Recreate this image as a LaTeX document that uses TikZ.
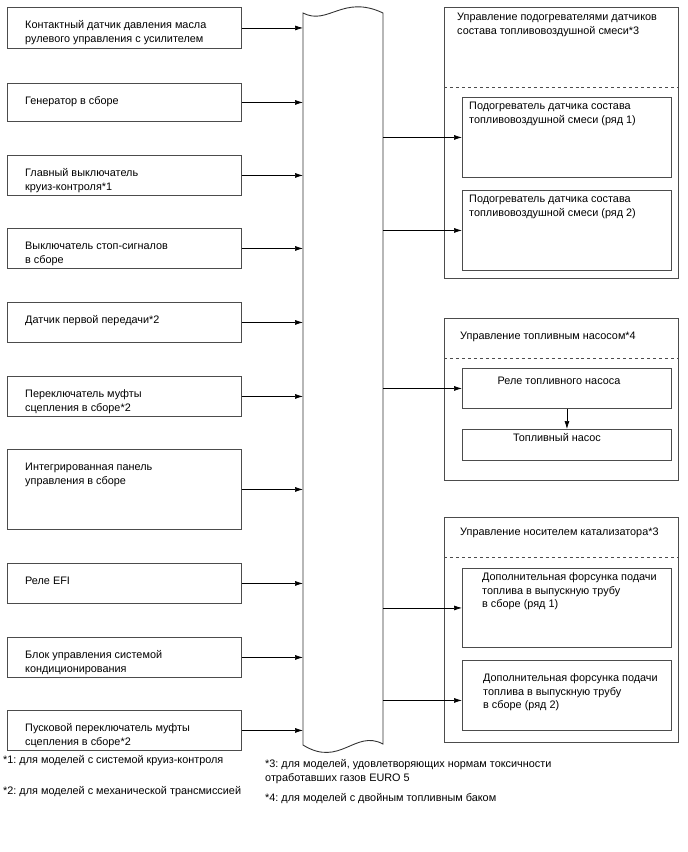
\documentclass[tikz,border=0pt]{standalone}
\usepackage{fontspec}
\setmainfont{Liberation Sans}
\frenchspacing
\usetikzlibrary{calc}
\usetikzlibrary{arrows.meta}

\begin{document}
\begin{tikzpicture}[x=1bp,y=-1bp,
        box/.style={draw=black!70,line width=0.9pt,rectangle,inner sep=0pt,anchor=north west},
        txt/.style={anchor=north west,inner sep=0pt,align=left,font=\fontsize{10.9}{14}\selectfont},
        link/.style={-{Latex[length=8bp,width=5bp]},line width=0.7pt}]
            \useasboundingbox (0,0) rectangle (688,852);

            % Bus
            \node[inner sep=0pt,minimum width=80bp,minimum height=732bp,anchor=north west] (bus) at (303,13) {};
            \draw[line width=0.9pt, black!80] (303,13) .. controls (328,26) and (343,-6) .. (383,13)
                -- (383,744) .. controls (355,729) and (340,768) .. (303,745) -- cycle;

            % Inputs
            \foreach \i/\yt/\hh/\txt in {
                1/7/41/{Контактный датчик давления масла\\рулевого управления с усилителем},
                2/83/38/{Генератор в сборе},
                3/155/40/{Главный выключатель\\круиз-контроля*1},
                4/228/40/{Выключатель стоп-сигналов\\в сборе},
                5/302/40/{Датчик первой передачи*2},
                6/376/40/{Переключатель муфты\\сцепления в сборе*2},
                7/449/80/{Интегрированная панель\\управления в сборе},
                8/563/40/{Реле EFI},
                9/637/40/{Блок управления системой\\кондиционирования},
                10/710/40/{Пусковой переключатель муфты\\сцепления в сборе*2}}
            {
            \node[box,minimum width=234bp,minimum height=\hh bp] (sw-\i) at (7,\yt) {};
            \node[txt] (sw-\i-t) at ($(sw-\i.north west)+(18,13.5)$) {\txt};
            \draw[link] (sw-\i.east) -- (sw-\i.east -| bus.west);
            }

            % Group 1: heaters
            \node[box,minimum width=234bp,minimum height=271bp] (grp-1) at (444,7) {};
            \node[txt] (grp-1-t) at (457,13) {Управление подогревателями датчиков\\состава топливовоздушной смеси*3};
            \draw[dashed, black!70] ($(grp-1.north west)+(0,80)$) -- ($(grp-1.north east)+(0,80)$);
            \node[box,minimum width=209bp,minimum height=80bp] (heat-1) at (462,97) {};
            \node[txt] (heat-1-t) at (469,102) {Подогреватель датчика состава\\топливовоздушной смеси (ряд 1)};
            \node[box,minimum width=209bp,minimum height=80bp] (heat-2) at (462,190) {};
            \node[txt] (heat-2-t) at (469,195) {Подогреватель датчика состава\\топливовоздушной смеси (ряд 2)};
            \foreach \j in {1,2}
            \draw[link] (bus.east |- heat-\j.west) -- (heat-\j.west);

            % Group 2: fuel pump
            \node[box,minimum width=234bp,minimum height=162bp] (grp-2) at (444,318) {};
            \node[txt] (grp-2-t) at (460,332) {Управление топливным насосом*4};
            \draw[dashed, black!70] ($(grp-2.north west)+(0,40)$) -- ($(grp-2.north east)+(0,40)$);
            \node[box,minimum width=209bp,minimum height=40bp] (relay) at (462,368) {};
            \node[txt,anchor=north] (relay-t) at (559,377) {Реле топливного насоса};
            \node[box,minimum width=209bp,minimum height=31bp] (pump) at (462,429) {};
            \node[txt,anchor=north] (pump-t) at (557,433) {Топливный насос};
            \draw[link] (bus.east |- relay.west) -- (relay.west);
            \draw[link] (relay.south) -- (pump.north);

            % Group 3: catalyst
            \node[box,minimum width=234bp,minimum height=225bp] (grp-3) at (444,517) {};
            \node[txt] (grp-3-t) at (460,528) {Управление носителем катализатора*3};
            \draw[dashed, black!70] ($(grp-3.north west)+(0,40)$) -- ($(grp-3.north east)+(0,40)$);
            \node[box,minimum width=209bp,minimum height=79bp] (inj-1) at (462,568) {};
            \node[txt] (inj-1-t) at (482,572) {Дополнительная форсунка подачи\\топлива в выпускную трубу\\в сборе (ряд 1)};
            \node[box,minimum width=209bp,minimum height=70bp] (inj-2) at (462,660) {};
            \node[txt] (inj-2-t) at (483,673) {Дополнительная форсунка подачи\\топлива в выпускную трубу\\в сборе (ряд 2)};
            \coordinate (inj-2-in) at ($(inj-2.west)+(0,5)$);
            \draw[link] (bus.east |- inj-1.west) -- (inj-1.west);
            \draw[link] (bus.east |- inj-2-in) -- (inj-2-in);

            % Notes
            \node[txt,anchor=base west] (note-1) at (3,763) {*1: для моделей с системой круиз-контроля};
            \node[txt,anchor=base west] (note-2) at (3,794) {*2: для моделей с механической трансмиссией};
            \node[txt,anchor=north west] (note-3) at (265,759) {*3: для моделей, удовлетворяющих нормам токсичности\\отработавших газов EURO 5};
            \node[txt,anchor=base west] (note-4) at (265,801) {*4: для моделей с двойным топливным баком};

        \end{tikzpicture}
\end{document}
